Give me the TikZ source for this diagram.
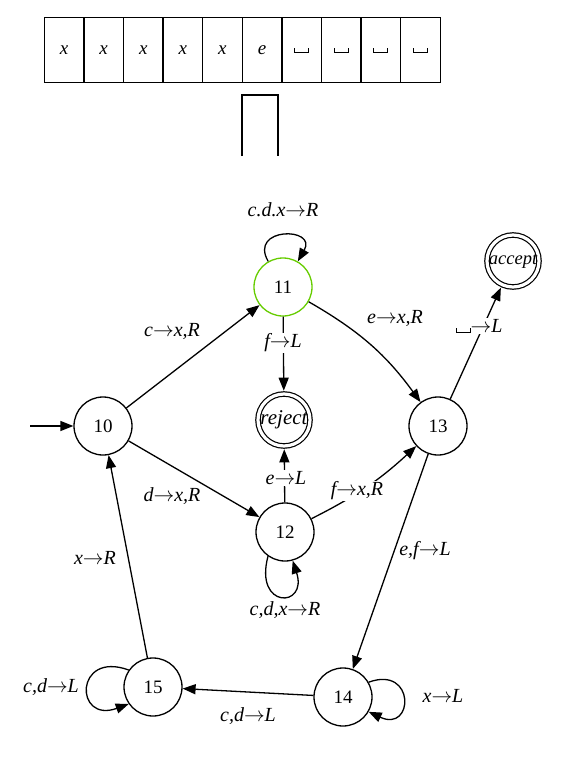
\documentclass[tikz,border=0pt]{standalone}
\usepackage{fontspec}
\setmainfont{Liberation Serif}
\usetikzlibrary{arrows.meta}
\definecolor{stgreen}{RGB}{102,204,0}
\newcommand\blk{\rule{1pt}{5pt}\rule{13pt}{1pt}\rule{1pt}{5pt}}
\newcommand\ar{\ensuremath{\rightarrow}}
\begin{document}
\begin{tikzpicture}[x=1pt,y=-1pt,
 every node/.style={font=\fontsize{19}{21}\selectfont},
 st/.style={circle,draw,line width=1.3pt,minimum size=58pt,inner sep=0pt},
 fin/.style={circle,draw,line width=1.2pt,double,double distance=3.2pt,minimum size=52pt,inner sep=0pt,outer sep=3.3pt},
 edge/.style={line width=1.3pt,-{Triangle[length=13pt,width=10pt]}},
 lbl/.style={inner sep=1pt,font=\fontsize{20}{22}\selectfont\itshape},
 onl/.style={lbl,fill=white},
 cell/.style={draw,line width=1.5pt,minimum width=39.6pt,minimum height=65pt,inner sep=0pt,anchor=north west,font=\fontsize{19}{21}\selectfont\itshape}]
\useasboundingbox (0,0) rectangle (582,764);
% tape
\foreach \i/\t in {0/x,1/x,2/x,3/x,4/x,5/e,6/\blk,7/\blk,8/\blk,9/\blk}
  \node[cell] (c\i) at (43.5+39.6*\i,16.8) {\t};
\coordinate (h1) at (242,156);
\coordinate (h2) at (242,95);
\coordinate (h3) at (278,95);
\coordinate (h4) at (278,156);
\draw[line width=1.5pt] (h1) -- (h2) -- (h3) -- (h4);
% states
\node[st] (n10) at (103,426) {10};
\node[st,draw=stgreen] (n11) at (283,287) {11};
\node[st] (n12) at (285,532) {12};
\node[st] (n13) at (438,426) {13};
\node[st] (n14) at (343,697) {14};
\node[st] (n15) at (153,687) {15};
\node[fin,font=\fontsize{21}{23}\selectfont\itshape] (rej) at (284,420) {reject};
\node[fin,font=\fontsize{18.5}{20}\selectfont\itshape] (acc) at (513,261) {accept};
\coordinate (start) at (30,426);
% edges
\draw[edge] (start) -- (n10);
\draw[edge] (n10) -- (n11);
\draw[edge] (n10) -- (n12);
\draw[edge] (n11) -- (rej);
\draw[edge] (n12) -- (rej);
\draw[edge] (n11) to[bend left=12] (n13);
\draw[edge] (n12) to[bend right=8] (n13);
\draw[edge] (n13) -- (acc);
\draw[edge] (n13) -- (n14);
\draw[edge] (n14) -- (n15);
\draw[edge] (n15) -- (n10);
% loops
\draw[edge] (n11.120) .. controls +(120:40pt) and +(60:40pt) .. (n11.60);
\draw[edge] (n12.235) .. controls +(255:55pt) and +(288:50pt) .. (n12.285);
\draw[edge] (n14.30) .. controls +(20:50pt) and +(-25:50pt) .. (n14.-30);
\draw[edge] (n15.145) .. controls +(160:58pt) and +(200:58pt) .. (n15.215);
% labels
\node[lbl] (l1) at (283,210) {c.d.x\ar R};
\node[lbl] (l2) at (172,331) {c\ar x,R};
\node[onl] (l3) at (283,343) {f\ar L};
\node[lbl] (l4) at (395,318) {e\ar x,R};
\node[onl] (l5) at (479,326) {\blk\ar L};
\node[lbl] (l6) at (172,496) {d\ar x,R};
\node[onl] (l7) at (286,478) {e\ar L};
\node[onl] (l8) at (357,491) {f\ar x,R};
\node[lbl] (l9) at (425,551) {e,f\ar L};
\node[lbl] (l10) at (95,558) {x\ar R};
\node[lbl] (l11) at (285,610) {c,d,x\ar R};
\node[lbl] (l12) at (51,687) {c,d\ar L};
\node[lbl] (l13) at (248,716) {c,d\ar L};
\node[lbl] (l14) at (443,696) {x\ar L};
\end{tikzpicture}
\end{document}
